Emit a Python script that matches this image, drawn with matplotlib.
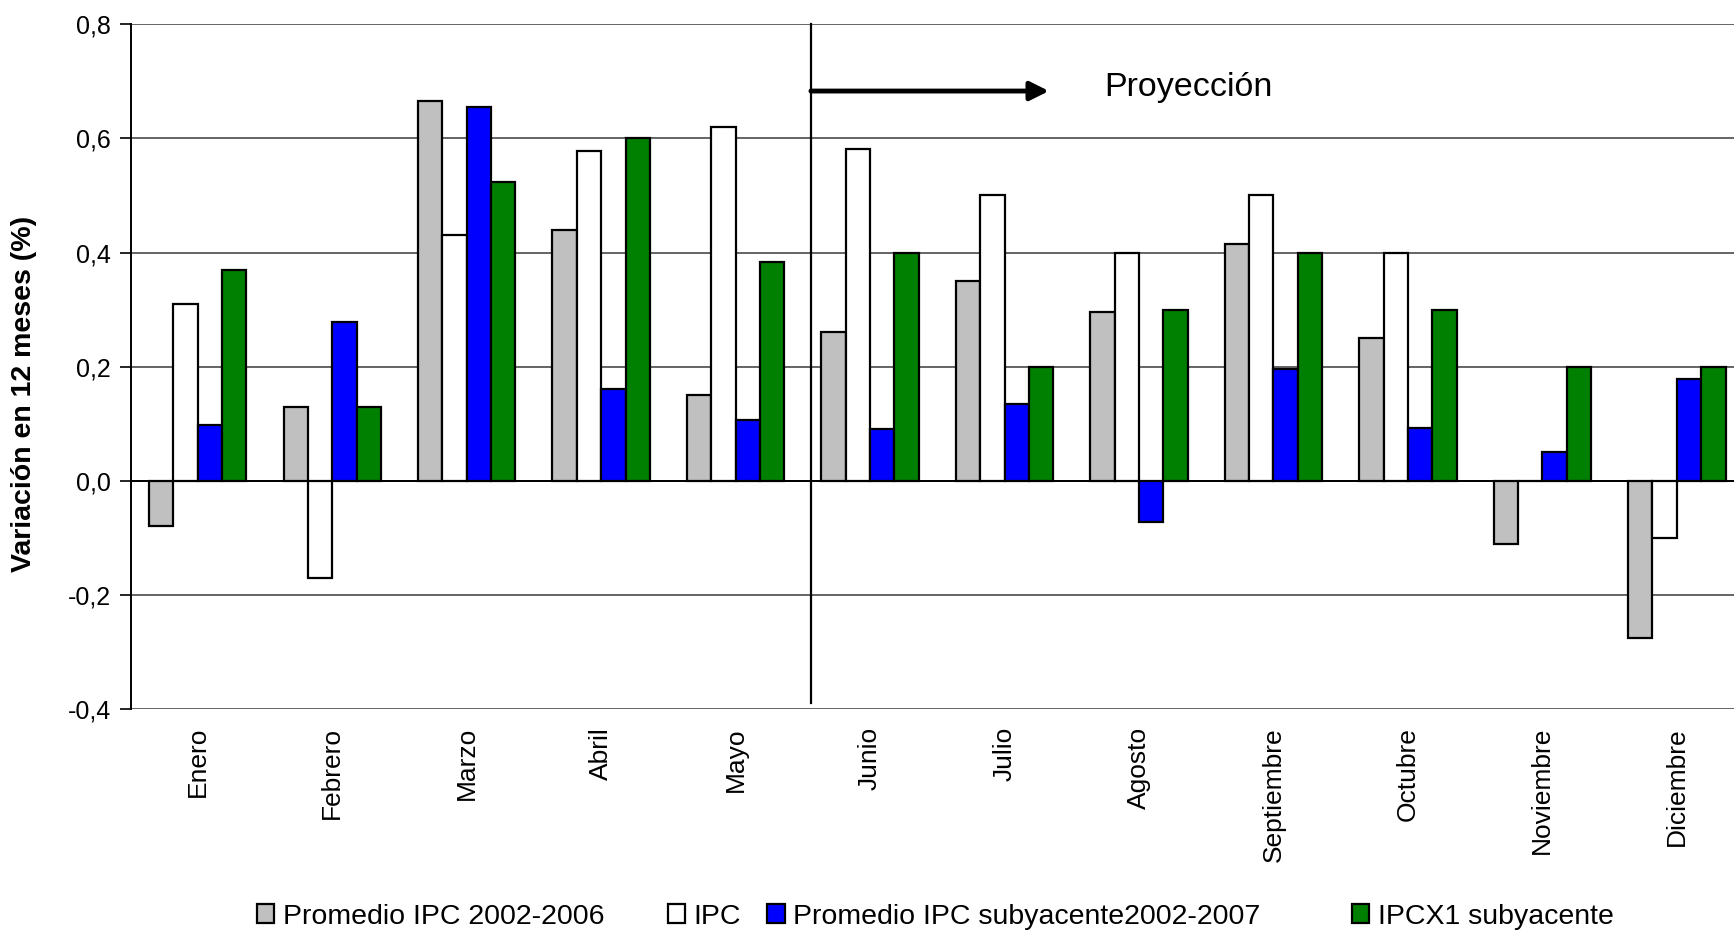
import numpy as np
import matplotlib
matplotlib.use("Agg")
import matplotlib.pyplot as plt
from matplotlib.patches import Patch

plt.rcParams['font.family'] = ['Liberation Sans', 'DejaVu Sans']

meses = ["Enero", "Febrero", "Marzo", "Abril", "Mayo", "Junio", "Julio",
         "Agosto", "Septiembre", "Octubre", "Noviembre", "Diciembre"]

prom_ipc = [-0.08, 0.13, 0.665, 0.44, 0.15, 0.26, 0.35, 0.295, 0.415, 0.25, -0.11, -0.275]
ipc = [0.31, -0.17, 0.43, 0.578, 0.62, 0.582, 0.50, 0.40, 0.50, 0.40, 0.0, -0.10]
prom_sub = [0.098, 0.278, 0.655, 0.16, 0.107, 0.09, 0.134, -0.072, 0.196, 0.093, 0.05, 0.178]
ipcx1_sub = [0.37, 0.13, 0.523, 0.60, 0.384, 0.40, 0.20, 0.30, 0.40, 0.30, 0.20, 0.20]

series = [prom_ipc, ipc, prom_sub, ipcx1_sub]
nombres = ["Promedio IPC 2002-2006", "IPC", "Promedio IPC subyacente2002-2007",
           "IPCX1 subyacente"]
colores = ["#C0C0C0", "#FFFFFF", "#0000FF", "#008000"]

yticks = [-0.4, -0.2, 0.0, 0.2, 0.4, 0.6, 0.8]
ytick_labels = ["-0,4", "-0,2", "0,0", "0,2", "0,4", "0,6", "0,8"]

fig = plt.figure(figsize=(17.34, 9.30), dpi=100)
ax = fig.add_axes([0.0753, 0.2376, 0.9305, 0.7363])

x = np.arange(len(meses))
w = 0.181
handles = []
for i, (vals, col, nom) in enumerate(zip(series, colores, nombres)):
    ax.bar(x + (i - 1.5) * w, vals, width=w, color=col, edgecolor="black",
           linewidth=1.6, zorder=3)
    handles.append(Patch(facecolor=col, edgecolor="black", linewidth=1.6, label=nom))

ax.set_xlim(-0.5, len(meses) - 0.5)
ax.set_ylim(-0.4, 0.8)
ax.set_yticks(yticks)
ax.set_yticklabels(ytick_labels, fontsize=18)
ax.set_xticks(x)
ax.set_xticklabels(meses, rotation=90, fontsize=19, va="top", ha="center")
ax.tick_params(axis="x", length=0, pad=13)
ax.tick_params(axis="y", length=8, width=1.2, direction="out", pad=6)

for s in ["top", "right", "bottom"]:
    ax.spines[s].set_visible(False)
ax.spines["left"].set_linewidth(1.4)

ax.yaxis.grid(True, color="#3a3a3a", linewidth=1.1, zorder=0)
ax.set_axisbelow(True)
ax.axhline(0, color="black", linewidth=1.4, zorder=2)

ax.set_ylabel("Variación en 12 meses (%)", fontsize=20.5, fontweight="bold", va="center")
ax.yaxis.set_label_coords(-0.066, 0.46)

# separación entre datos observados y proyección
ax.plot([4.56, 4.56], [-0.39, 0.8], color="black", linewidth=1.6, zorder=4, clip_on=False)
ax.annotate("", xy=(6.33, 0.683), xytext=(4.56, 0.683),
            arrowprops=dict(arrowstyle="-|>", lw=3.5, color="black", mutation_scale=28,
                            shrinkA=0, shrinkB=0), zorder=5)
ax.text(6.74, 0.689, "Proyección", fontsize=24.5, va="center", ha="left")

# leyenda con separaciones irregulares como en el original
leg_x = [0.148, 0.385, 0.4425, 0.7795]
for h, lx in zip(handles, leg_x):
    leg = fig.legend(handles=[h], loc="center left", bbox_to_anchor=(lx, 0.0145),
                     frameon=False, fontsize=20.5, handlelength=0.62, handleheight=0.62,
                     handletextpad=0.3, borderpad=0, borderaxespad=0)

fig.savefig("out.png", dpi=100)
